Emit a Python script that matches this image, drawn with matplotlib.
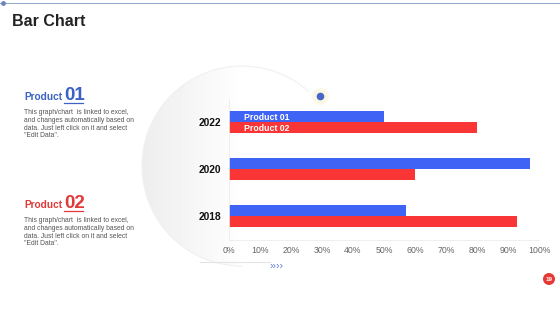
import numpy as np
import matplotlib
matplotlib.use("Agg")
import matplotlib.pyplot as plt
from matplotlib.patches import Circle, Arc

plt.rcParams['font.family'] = ['Liberation Sans', 'DejaVu Sans']

years = ['2018', '2020', '2022']
product_01 = [57, 97, 50]
product_02 = [93, 60, 80]
series_names = ['Product 01', 'Product 02']
xticks = [0, 10, 20, 30, 40, 50, 60, 70, 80, 90, 100]

blue = '#3f63f5'
red = '#f93535'
body = ('This graph/chart  is linked to excel,\nand changes automatically based on\n'
        'data. Just left click on it and select\n"Edit Data".')

fig = plt.figure(figsize=(5.6, 3.15), dpi=100)

# background layer in pixel coords
bg = fig.add_axes([0, 0, 1, 1])
bg.set_xlim(0, 560)
bg.set_ylim(315, 0)
bg.axis('off')

# soft circle behind the chart
cx, cy, r = 242, 166, 100
xs = np.linspace(cx - r, cx + r, 200)
grad = np.clip(0.93 + 0.07 * (xs - (cx - r)) / (1.05 * r), 0, 1)
img = np.tile(grad, (200, 1))
im = bg.imshow(img, cmap='gray', vmin=0, vmax=1, extent=(cx - r, cx + r, cy + r, cy - r), zorder=0)
circ = Circle((cx, cy), r, transform=bg.transData, facecolor='none', edgecolor='none')
bg.add_patch(circ)
im.set_clip_path(circ)
bg.add_patch(Arc((cx, cy), 2 * r, 2 * r, theta1=90, theta2=312, edgecolor='#f0f0f0', lw=0.8, zorder=1))

bg.plot([0, 560], [3, 3], color='#9aaccc', lw=0.8)
bg.plot([3], [3], 'o', color='#6f86b8', ms=2.5)
bg.plot([320], [96], 'o', color='#fbf8e6', ms=11, zorder=3)
bg.plot([320], [96], 'o', color='#4a66c8', ms=4.5, zorder=4)
bg.plot([200, 270], [262, 262], color='#e4e4e4', lw=0.8)
bg.text(269, 265.5, '››››', color='#5b7bd5', fontsize=7.5, va='center', ha='left')

bg.text(12, 22, 'Bar Chart', fontsize=11.5, fontweight='bold', color='#222222', va='center')

# product notes
for y0, col, num in [(96, '#3b62c4', '01'), (204, '#e03a3a', '02')]:
    bg.text(24, y0 + 4, 'Product', fontsize=7.3, fontweight='bold', color=col, va='baseline')
    bg.text(64, y0 + 4.5, num, fontsize=13.5, fontweight='bold', color=col, va='baseline')
    bg.plot([64, 83], [y0 + 6.5, y0 + 6.5], color=col, lw=0.9)
    bg.text(24, y0 + 13, body, fontsize=4.9, color='#555555', va='top', linespacing=1.15)

# page number
bg.add_patch(Circle((549, 279), 6, facecolor='#e53935', edgecolor='none'))
bg.text(549, 279.3, '19', fontsize=4.5, fontweight='bold', color='white', ha='center', va='center')

# chart
ax = fig.add_axes([229 / 560, 1 - 239.5 / 315, 310 / 560, 141 / 315])
ax.set_facecolor('none')
y = np.arange(len(years))
h = 0.225
ax.barh(y + h / 2, product_01, height=h, color=blue, label=series_names[0])
ax.barh(y - h / 2, product_02, height=h, color=red, label=series_names[1])
ax.set_xlim(0, 100)
ax.set_ylim(-0.5, 2.5)
ax.set_xticks(xticks)
ax.set_xticklabels([f'{t}%' for t in xticks], fontsize=6.3, color='#666666')
ax.set_yticks(y)
ax.set_yticklabels(years, fontsize=7.4, fontweight='bold', color='#111111')
ax.tick_params(axis='x', length=0, pad=5)
ax.tick_params(axis='y', length=0, pad=5.5)
for s in ['top', 'right']:
    ax.spines[s].set_visible(False)
for s in ['left', 'bottom']:
    ax.spines[s].set_color('#ececec')
    ax.spines[s].set_linewidth(0.6)

leg = ax.legend(loc='upper left', bbox_to_anchor=(0.035, 0.925), frameon=False,
                handlelength=0, handletextpad=0, labelspacing=0.2, borderpad=0,
                prop={'size': 6.3, 'weight': 'bold'}, labelcolor='white')
for hdl in leg.legend_handles:
    hdl.set_visible(False)

fig.savefig('out.png', dpi=100)
